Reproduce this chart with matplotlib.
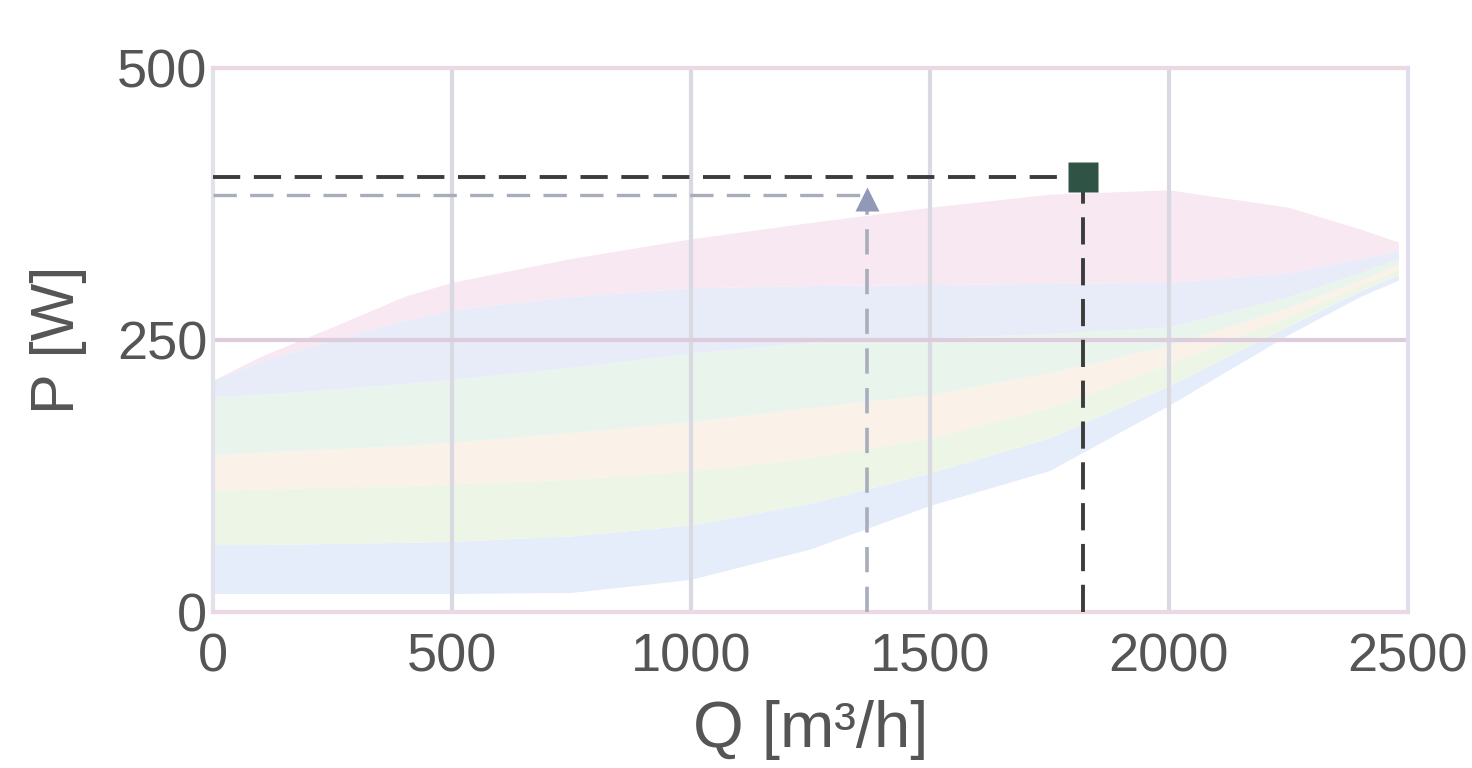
import numpy as np
import matplotlib
matplotlib.use("Agg")
import matplotlib.pyplot as plt

# operating field (Q in m3/h, P in W)
q_grid = [0, 100, 250, 400, 500, 750, 1000, 1250, 1500, 1750, 2000, 2250, 2400, 2480]
p_b0 = [17, 17, 17, 17, 17, 18, 30, 58, 98, 130, 190, 255, 290, 305]
p_b1 = [62, 62, 63, 64, 65, 70, 80, 100, 128, 160, 208, 263, 295, 310]
p_b2 = [112, 113, 115, 116, 118, 122, 130, 142, 160, 188, 228, 272, 300, 315]
p_b3 = [145, 147, 150, 153, 156, 165, 175, 188, 200, 220, 245, 280, 305, 320]
p_b4 = [198, 200, 205, 210, 214, 225, 238, 248, 252, 256, 262, 290, 312, 325]
p_b5 = [213, 230, 250, 268, 278, 290, 298, 300, 301, 302, 303, 312, 325, 332]
p_b6 = [213, 235, 262, 290, 303, 325, 343, 358, 372, 384, 388, 372, 352, 340]
band_colors = ['#e6edfa', '#edf5e7', '#faf1e8', '#e8f4ec', '#e8ebf8', '#f7e8f2']

# operating points
q_op = 1820
p_op = 400
q_req = 1368
p_req = 383

x_ticks = [0, 500, 1000, 1500, 2000, 2500]
y_ticks = [0, 250, 500]

plt.rcParams['font.family'] = ['Liberation Sans', 'DejaVu Sans']

fig = plt.figure(figsize=(14.72, 7.68), dpi=100)
ax = fig.add_axes([0.1447, 0.2031, 0.9565 - 0.1447, 0.9115 - 0.2031])

bounds = [p_b0, p_b1, p_b2, p_b3, p_b4, p_b5, p_b6]
for i in range(len(bounds) - 1):
    ax.fill_between(q_grid, bounds[i], bounds[i + 1], color=band_colors[i],
                    linewidth=0, zorder=1)

# grid
for xv in x_ticks[1:-1]:
    ax.axvline(xv, color='#d9d9e2', lw=3, zorder=2)
ax.axhline(250, color='#dcccdc', lw=3, zorder=2)

# requested point (light)
ax.plot([0, q_req], [p_req, p_req], color='#a9adbb', lw=2.4, dashes=(7, 4), zorder=3)
ax.plot([q_req, q_req], [0, p_req], color='#a9adbb', lw=2.6, dashes=(7, 4), zorder=3)
ax.plot(q_req, p_req - 3, marker='^', ms=17, color='#9299b8', mec='none', zorder=4)

# operating point (dark)
ax.plot([0, q_op], [p_op, p_op], color='#3c3c3c', lw=2.8, dashes=(7, 3.5), zorder=5)
ax.plot([q_op, q_op], [0, p_op], color='#3c3c3c', lw=2.8, dashes=(7, 3.5), zorder=5)
ax.plot(q_op, p_op, marker='s', ms=21, color='#2f5446', mec='none', zorder=6)

ax.set_xlim(0, 2500)
ax.set_ylim(0, 500)
ax.set_xticks(x_ticks)
ax.set_yticks(y_ticks)
ax.tick_params(length=0, labelsize=39, colors='#555555')
ax.tick_params(axis='x', pad=15)
ax.tick_params(axis='y', pad=4)

for side, c in [('top', '#ecd8e2'), ('bottom', '#ecd8e2'), ('left', '#e2e2ea'), ('right', '#e2dcef')]:
    ax.spines[side].set_color(c)
    ax.spines[side].set_linewidth(3)

ax.set_xlabel('Q [m³/h]', fontsize=47, color='#555555', labelpad=12)
ax.set_ylabel('P [W]', fontsize=44, color='#555555', labelpad=22)

fig.savefig('out.png', dpi=100)
